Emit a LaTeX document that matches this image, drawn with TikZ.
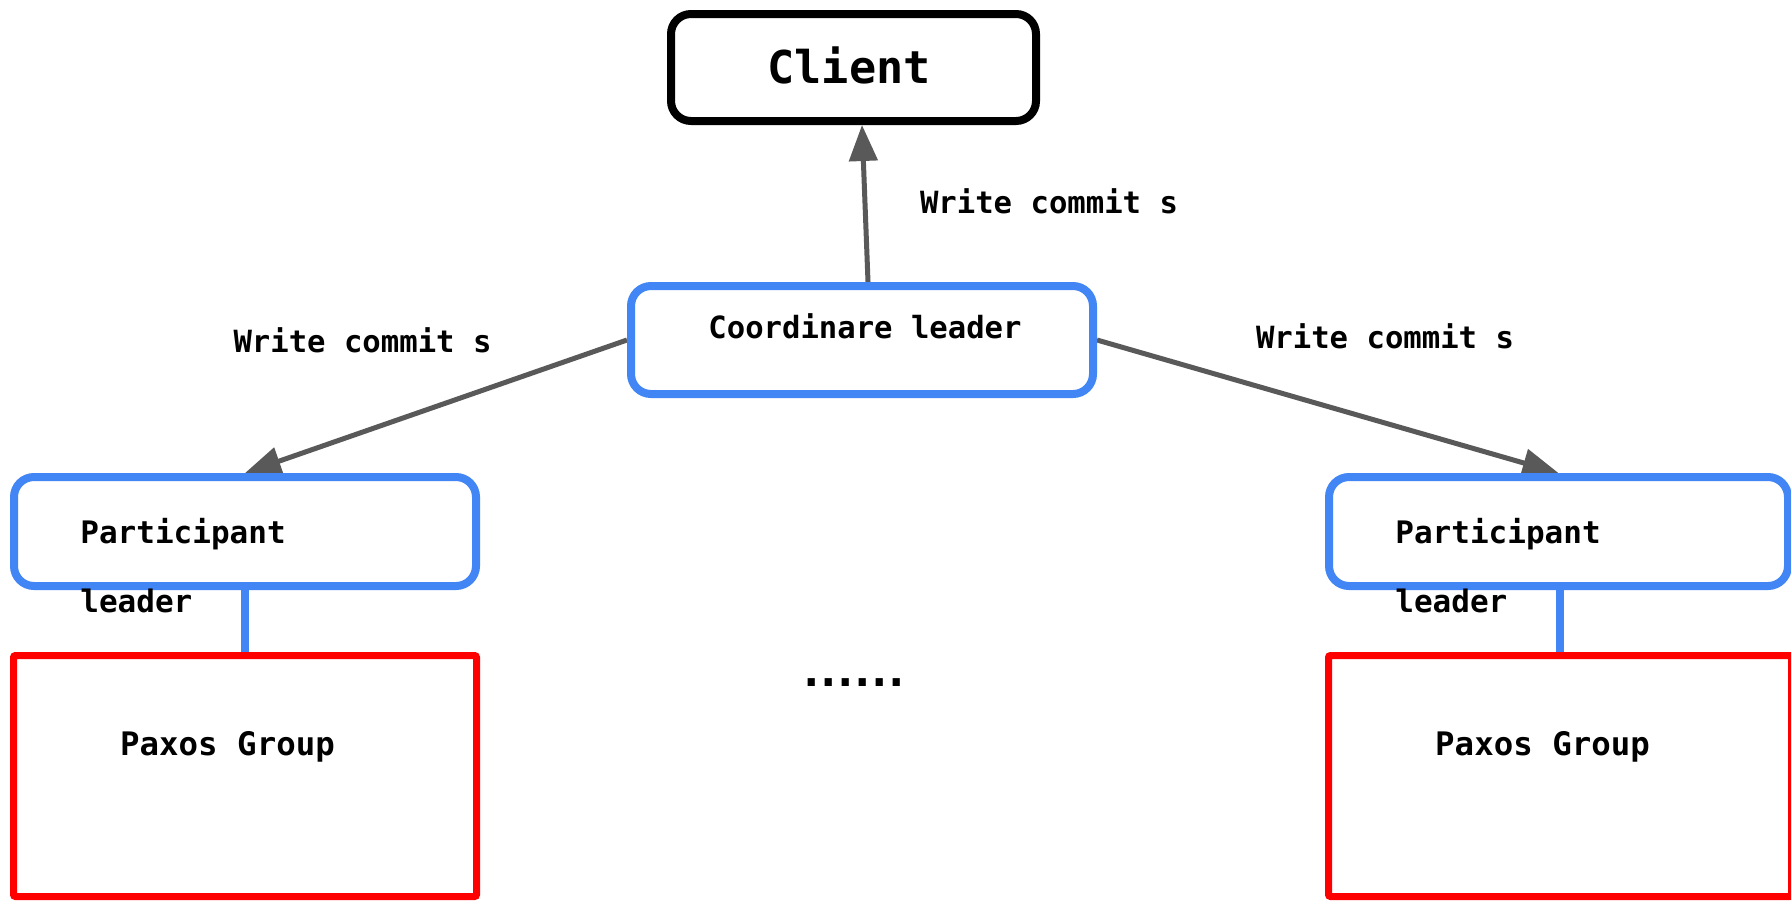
\documentclass[tikz,border=0pt]{standalone}
\usepackage{fontspec}
\newfontfamily\dm{DejaVu Sans Mono}
\usetikzlibrary{arrows.meta,backgrounds}
\definecolor{gblue}{RGB}{66,133,244}
\definecolor{agray}{RGB}{89,89,89}
\newcommand{\dt}{\makebox[8.5pt][c]{.}}
\begin{document}
\begin{tikzpicture}[x=0.5pt,y=-0.5pt,
  bluebox/.style={draw=gblue,line width=4pt,rounded corners=10pt,fill=white,inner sep=0pt},
  blackbox/.style={draw=black,line width=4pt,rounded corners=10pt,fill=white,inner sep=0pt},
  redbox/.style={draw=red,line width=3.5pt,rounded corners=1pt,fill=white,inner sep=0pt},
  lbl/.style={inner sep=0pt,anchor=base,font=\dm\bfseries\fontsize{15.3}{18}\selectfont},
  lblw/.style={inner sep=0pt,anchor=base west,font=\dm\bfseries\fontsize{15.5}{18}\selectfont},
  arr/.style={draw=agray,line width=2.5pt,-{Triangle[length=18pt,width=14pt]}},
  link/.style={draw=gblue,line width=4pt}
]
\useasboundingbox (0,0) rectangle (1791,900);
\clip (0,0) rectangle (1791,900);

% boxes
\node[blackbox,minimum width=182.5pt,minimum height=53.5pt] (cl) at (853.5,67.5) {};
\node[bluebox,minimum width=231pt,minimum height=54pt] (co) at (862,340) {};
\node[bluebox,minimum width=231pt,minimum height=54.5pt] (pL) at (245,531.5) {};
\node[bluebox,minimum width=229.5pt,minimum height=54.5pt] (pR) at (1558.5,531.5) {};
\node[redbox,minimum width=231.5pt,minimum height=120.5pt] (gL) at (245,776) {};
\node[redbox,minimum width=231.5pt,minimum height=120.5pt] (gR) at (1560,776) {};

% texts
\node[lbl,font=\dm\bfseries\fontsize{22.6}{26}\selectfont] (clT) at (849,83) {Client};
\node[lbl] (coT) at (865,338) {Coordinare leader};
\node[lblw] (pLa) at (80,543) {Participant};
\node[lblw] (pLb) at (80,612) {leader};
\node[lblw] (pRa) at (1395,543) {Participant};
\node[lblw] (pRb) at (1395,612) {leader};
\node[lbl,font=\dm\bfseries\fontsize{16.2}{19}\selectfont] (gLT) at (227.5,755) {Paxos Group};
\node[lbl,font=\dm\bfseries\fontsize{16.2}{19}\selectfont] (gRT) at (1542.5,755) {Paxos Group};
\node[lbl,font=\dm\bfseries\fontsize{22}{24}\selectfont] (dots) at (854,686) {\dt\dt\dt\dt\dt\dt};
\node[lbl] (w1) at (1049,213) {Write commit s};
\node[lbl] (w2) at (362.5,352) {Write commit s};
\node[lbl] (w3) at (1385,348) {Write commit s};

% connectors behind the boxes
\begin{scope}[on background layer]
  \fill[white] (0,0) rectangle (1791,900);
  \draw[arr] ([xshift=3pt]co.north) -- ([xshift=4.25pt]cl.south);
  \draw[arr] (co.west) -- (pL.north);
  \draw[arr] (co.east) -- (pR.north);
  \draw[link] (pL.south) -- (gL.north);
  \draw[link] ([xshift=0.5pt]pR.south) -- ([xshift=-0.25pt]gR.north);
\end{scope}
\end{tikzpicture}
\end{document}
